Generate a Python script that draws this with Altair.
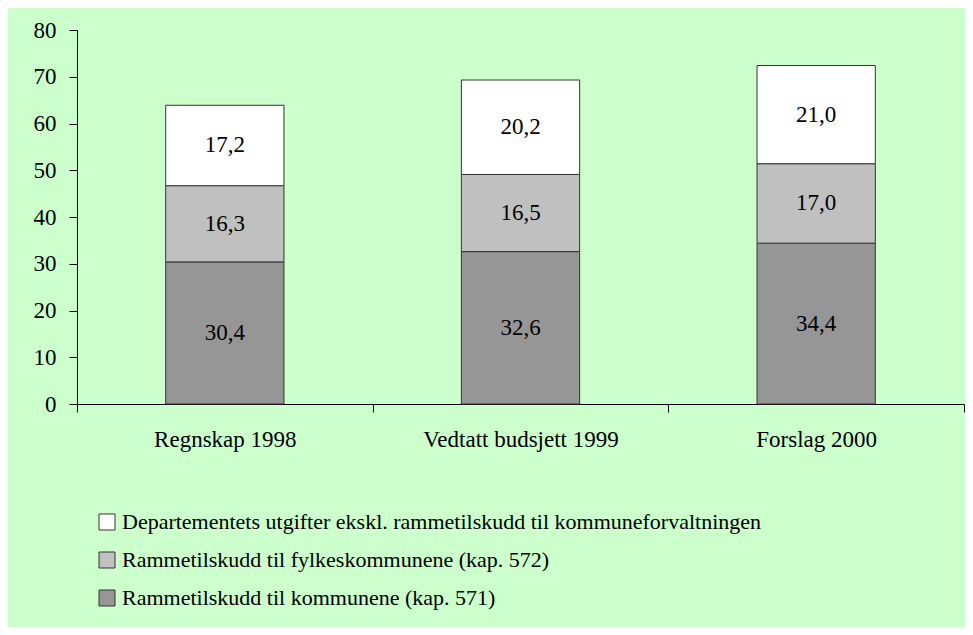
import altair as alt
import pandas as pd

categories = ["Regnskap 1998", "Vedtatt budsjett 1999", "Forslag 2000"]
series = [
    "Departementets utgifter ekskl. rammetilskudd til kommuneforvaltningen",
    "Rammetilskudd til fylkeskommunene (kap. 572)",
    "Rammetilskudd til kommunene (kap. 571)",
]
kommunene = [30.4, 32.6, 34.4]
fylkes = [16.3, 16.5, 17.0]
departement = [17.2, 20.2, 21.0]
colors = ["#FFFFFF", "#C0C0C0", "#969696"]
y_ticks = [0, 10, 20, 30, 40, 50, 60, 70, 80]

rows = []
for i, c in enumerate(categories):
    for s, vals, o in [(series[2], kommunene, 0), (series[1], fylkes, 1), (series[0], departement, 2)]:
        rows.append({"cat": c, "series": s, "value": vals[i], "ord": o,
                     "label": f"{vals[i]:.1f}".replace(".", ",")})
df = pd.DataFrame(rows)

FONT = "Liberation Serif"

base = alt.Chart(df)

x_enc = alt.X("cat:N", sort=categories, title=None,
              scale=alt.Scale(paddingInner=0, paddingOuter=0),
              axis=alt.Axis(labelAngle=0, tickBand="extent", tickSize=8, labelPadding=16,
                            labelFont=FONT, labelFontSize=23, labelColor="black",
                            labelLimit=400,
                            domainColor="black", tickColor="black"))

bars = base.mark_bar(stroke="#333333", strokeWidth=1,
                     width=alt.RelativeBandSize(0.4)).encode(
    x=x_enc,
    y=alt.Y("value:Q", stack="zero", title=None,
            scale=alt.Scale(domain=[0, 80], nice=False),
            axis=alt.Axis(values=y_ticks, tickSize=8, labelPadding=13, grid=False,
                          labelFont=FONT, labelFontSize=23, labelColor="black",
                          domainColor="black", tickColor="black")),
    color=alt.Color("series:N", title=None,
                    scale=alt.Scale(domain=series, range=colors),
                    legend=alt.Legend(orient="none", legendX=19, legendY=481, padding=0,
                                      symbolType="square", symbolSize=256,
                                      symbolStrokeColor="#333333", symbolStrokeWidth=1,
                                      symbolOpacity=1,
                                      labelFont=FONT, labelFontSize=22, labelColor="black",
                                      labelOffset=4, rowPadding=16, labelLimit=0)),
    order=alt.Order("ord:Q"),
)

texts = base.transform_stack(
    stack="value", groupby=["cat"], sort=[alt.SortField("ord")], as_=["v0", "v1"]
).transform_calculate(
    mid="(datum.v0 + datum.v1) / 2"
).mark_text(font=FONT, fontSize=23, color="black", baseline="middle").encode(
    x=alt.X("cat:N", sort=categories),
    y=alt.Y("mid:Q"),
    text="label:N",
)

chart = alt.layer(bars, texts).properties(
    width=887, height=374,
    padding={"left": 69, "top": 22, "right": 1, "bottom": 223},
    autosize=alt.AutoSizeParams(type="none"),
    background="#CCFFCC",
).configure_view(stroke=None)

chart.save("out.html", embed_options={"renderer": "svg", "actions": False})
